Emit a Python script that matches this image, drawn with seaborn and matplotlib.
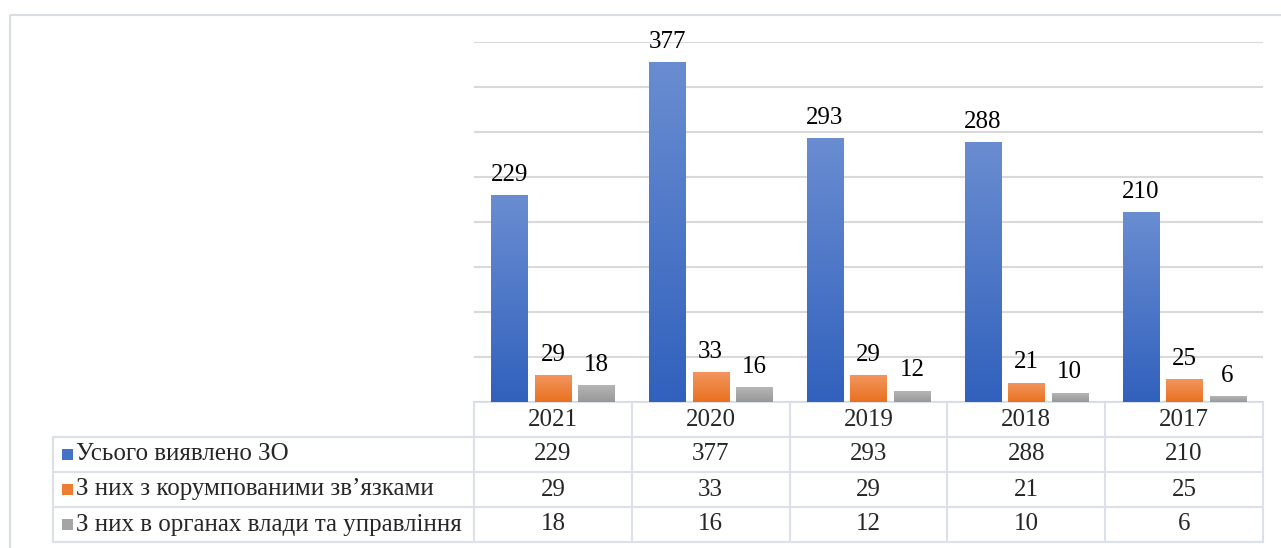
import matplotlib.pyplot as plt
import numpy as np
import pandas as pd
import seaborn as sns
from matplotlib.colors import LinearSegmentedColormap
from matplotlib.lines import Line2D
from matplotlib.patches import Rectangle


YEARS = ["2021", "2020", "2019", "2018", "2017"]
SERIES = [
    "Усього виявлено ЗО",
    "З них з корумпованими зв’язками",
    "З них в органах влади та управління",
]
TOTAL = [229, 377, 293, 288, 210]
CORRUPT = [29, 33, 29, 21, 25]
AUTHORITIES = [18, 16, 12, 10, 6]

COLORS = ["#4472C4", "#ED7D31", "#A5A5A5"]
# bottom -> top gradient stops (Excel style fill)
GRADIENTS = [("#3161BD", "#6A8DD1"), ("#E9711F", "#F2955E"), ("#989898", "#B5B5B5")]
GRID_COLOR = "#D9D9D9"
TABLE_COLOR = "#DCE0E8"
FONT_SIZE = 18


def main() -> None:
    sns.set_theme(style="white")
    plt.rcParams["font.family"] = ["Liberation Serif", "DejaVu Serif"]

    df = pd.DataFrame(
        {
            "year": YEARS * 3,
            "series": np.repeat(SERIES, len(YEARS)),
            "value": TOTAL + CORRUPT + AUTHORITIES,
        }
    )

    W, H = 1281, 548
    fig = plt.figure(figsize=(W / 100, H / 100), dpi=100)

    # plot area in pixels: x 474..1263, y 42..402
    left, right, top, bottom = 474, 1263, 42, 402
    ax = fig.add_axes([left / W, 1 - bottom / H, (right - left) / W, (bottom - top) / H])

    sns.barplot(
        data=df,
        x="year",
        y="value",
        hue="series",
        order=YEARS,
        hue_order=SERIES,
        palette=COLORS,
        saturation=1,
        width=0.826,
        gap=0.17,
        legend=False,
        ax=ax,
    )

    grad = np.linspace(0, 1, 256).reshape(-1, 1)
    for container, (lo, hi) in zip(ax.containers, GRADIENTS):
        cmap = LinearSegmentedColormap.from_list("g", [lo, hi])
        for bar in container:
            x0, y0 = bar.get_x(), bar.get_y()
            w, h = bar.get_width(), bar.get_height()
            ax.imshow(
                grad,
                cmap=cmap,
                extent=[x0, x0 + w, y0, y0 + h],
                origin="lower",
                aspect="auto",
                zorder=2,
            )
            bar.set_facecolor("none")
            bar.set_edgecolor("none")
        ax.bar_label(container, padding=7, fontsize=FONT_SIZE, color="black")

    ax.set_xlim(-0.5, len(YEARS) - 0.5)
    ax.set_ylim(0, 400)
    ax.set_yticks(range(0, 401, 50))
    ax.yaxis.grid(True, color=GRID_COLOR, lw=1.5)
    ax.set_axisbelow(True)
    ax.tick_params(left=False, labelleft=False, bottom=False, labelbottom=False)
    ax.set_xlabel("")
    ax.set_ylabel("")
    sns.despine(ax=ax, left=True, bottom=True)

    # data table under the chart, drawn in pixel coordinates
    tab = fig.add_axes([0, 0, 1, 1], zorder=-1)
    tab.set_xlim(0, W)
    tab.set_ylim(H, 0)
    tab.axis("off")

    tab.add_patch(Rectangle((9.5, 14.5), 1300, 600, fill=False, ec="#D9DDE6", lw=1.5))

    label_left = 53
    col_w = (right - left) / len(YEARS)
    row_h = 35
    rows_y = [bottom + i * row_h for i in range(5)]

    tab.add_line(Line2D([left, right], [rows_y[0]] * 2, color=TABLE_COLOR, lw=1.5))
    for y in rows_y[1:]:
        tab.add_line(Line2D([label_left, right], [y, y], color=TABLE_COLOR, lw=1.5))
    tab.add_line(Line2D([label_left] * 2, [rows_y[1], rows_y[-1]], color=TABLE_COLOR, lw=1.5))
    for i in range(len(YEARS) + 1):
        x = left + i * col_w
        tab.add_line(Line2D([x, x], [rows_y[0], rows_y[-1]], color=TABLE_COLOR, lw=1.5))

    for i, year in enumerate(YEARS):
        tab.text(left + (i + 0.5) * col_w, rows_y[0] + row_h / 2, year,
                 ha="center", va="center", fontsize=FONT_SIZE)

    for r, (name, vals, color) in enumerate(zip(SERIES, [TOTAL, CORRUPT, AUTHORITIES], COLORS)):
        yc = rows_y[r + 1] + row_h / 2
        tab.add_patch(Rectangle((62, yc - 5.5), 11, 11, color=color, lw=0))
        tab.text(76, yc, name, ha="left", va="center", fontsize=FONT_SIZE)
        for i, v in enumerate(vals):
            tab.text(left + (i + 0.5) * col_w, yc, str(v),
                     ha="center", va="center", fontsize=FONT_SIZE)

    fig.savefig("out.png", dpi=100)
    plt.close(fig)


if __name__ == "__main__":
    main()
